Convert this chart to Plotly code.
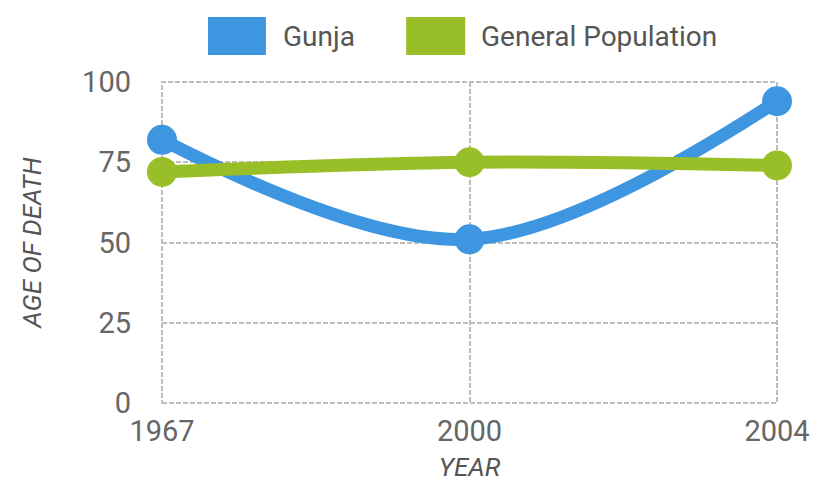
import plotly.graph_objects as go

years = ["1967", "2000", "2004"]
gunja = [82, 51, 94]
general = [72, 75, 74]
series_names = ["Gunja", "General Population"]
colors = ["#3f96e0", "#98bf28"]
y_ticks = [0, 25, 50, 75, 100]

fig = go.Figure()
for name, vals, col in zip(series_names, [gunja, general], colors):
    fig.add_trace(go.Scatter(
        x=years, y=vals, name=name, mode="lines+markers",
        line=dict(color=col, width=13, shape="spline", smoothing=1.0),
        marker=dict(color=col, size=30),
        cliponaxis=False, showlegend=False,
    ))

# custom legend (large square swatches)
legend_items = [(0.0748, 0.169, 0.1935), (0.397, 0.493, 0.5154)]
for (x0, x1, tx), name, col in zip(legend_items, series_names, colors):
    fig.add_shape(type="rect", xref="paper", yref="paper",
                  x0=x0, x1=x1, y0=1.084, y1=1.2025,
                  fillcolor=col, line=dict(width=0))
    fig.add_annotation(x=tx, y=1.143, xref="paper", yref="paper",
                       text=name, showarrow=False, xanchor="left", yanchor="middle",
                       font=dict(family="Roboto", size=28, color="#555555"))

# dashed plot frame
fig.add_shape(type="rect", xref="paper", yref="paper", x0=0, x1=1, y0=0, y1=1,
              line=dict(color="#bdbdbd", width=2, dash="5px,2px"), layer="below")

grid = dict(showgrid=True, gridcolor="#bdbdbd", gridwidth=2, griddash="5px,2px",
            showline=False, zeroline=False, automargin=False)

fig.update_xaxes(type="category", range=[0, 2], **grid,
                 tickfont=dict(family="Roboto", size=29, color="#666666"),
                 ticklabelstandoff=8,
                 title=dict(text="<i>YEAR</i>", standoff=10,
                            font=dict(family="Roboto", size=26, color="#555555")))
fig.update_yaxes(range=[0, 100], tickvals=y_ticks, **grid,
                 tickfont=dict(family="Roboto", size=29, color="#666666"),
                 ticklabelstandoff=30,
                 title=dict(text="<i>AGE OF DEATH</i>", standoff=32,
                            font=dict(family="Roboto", size=26, color="#555555")))

fig.update_layout(
    width=813, height=484,
    margin=dict(l=162, r=36, t=82, b=81),
    paper_bgcolor="white", plot_bgcolor="white",
)

fig.write_html("out.html")
